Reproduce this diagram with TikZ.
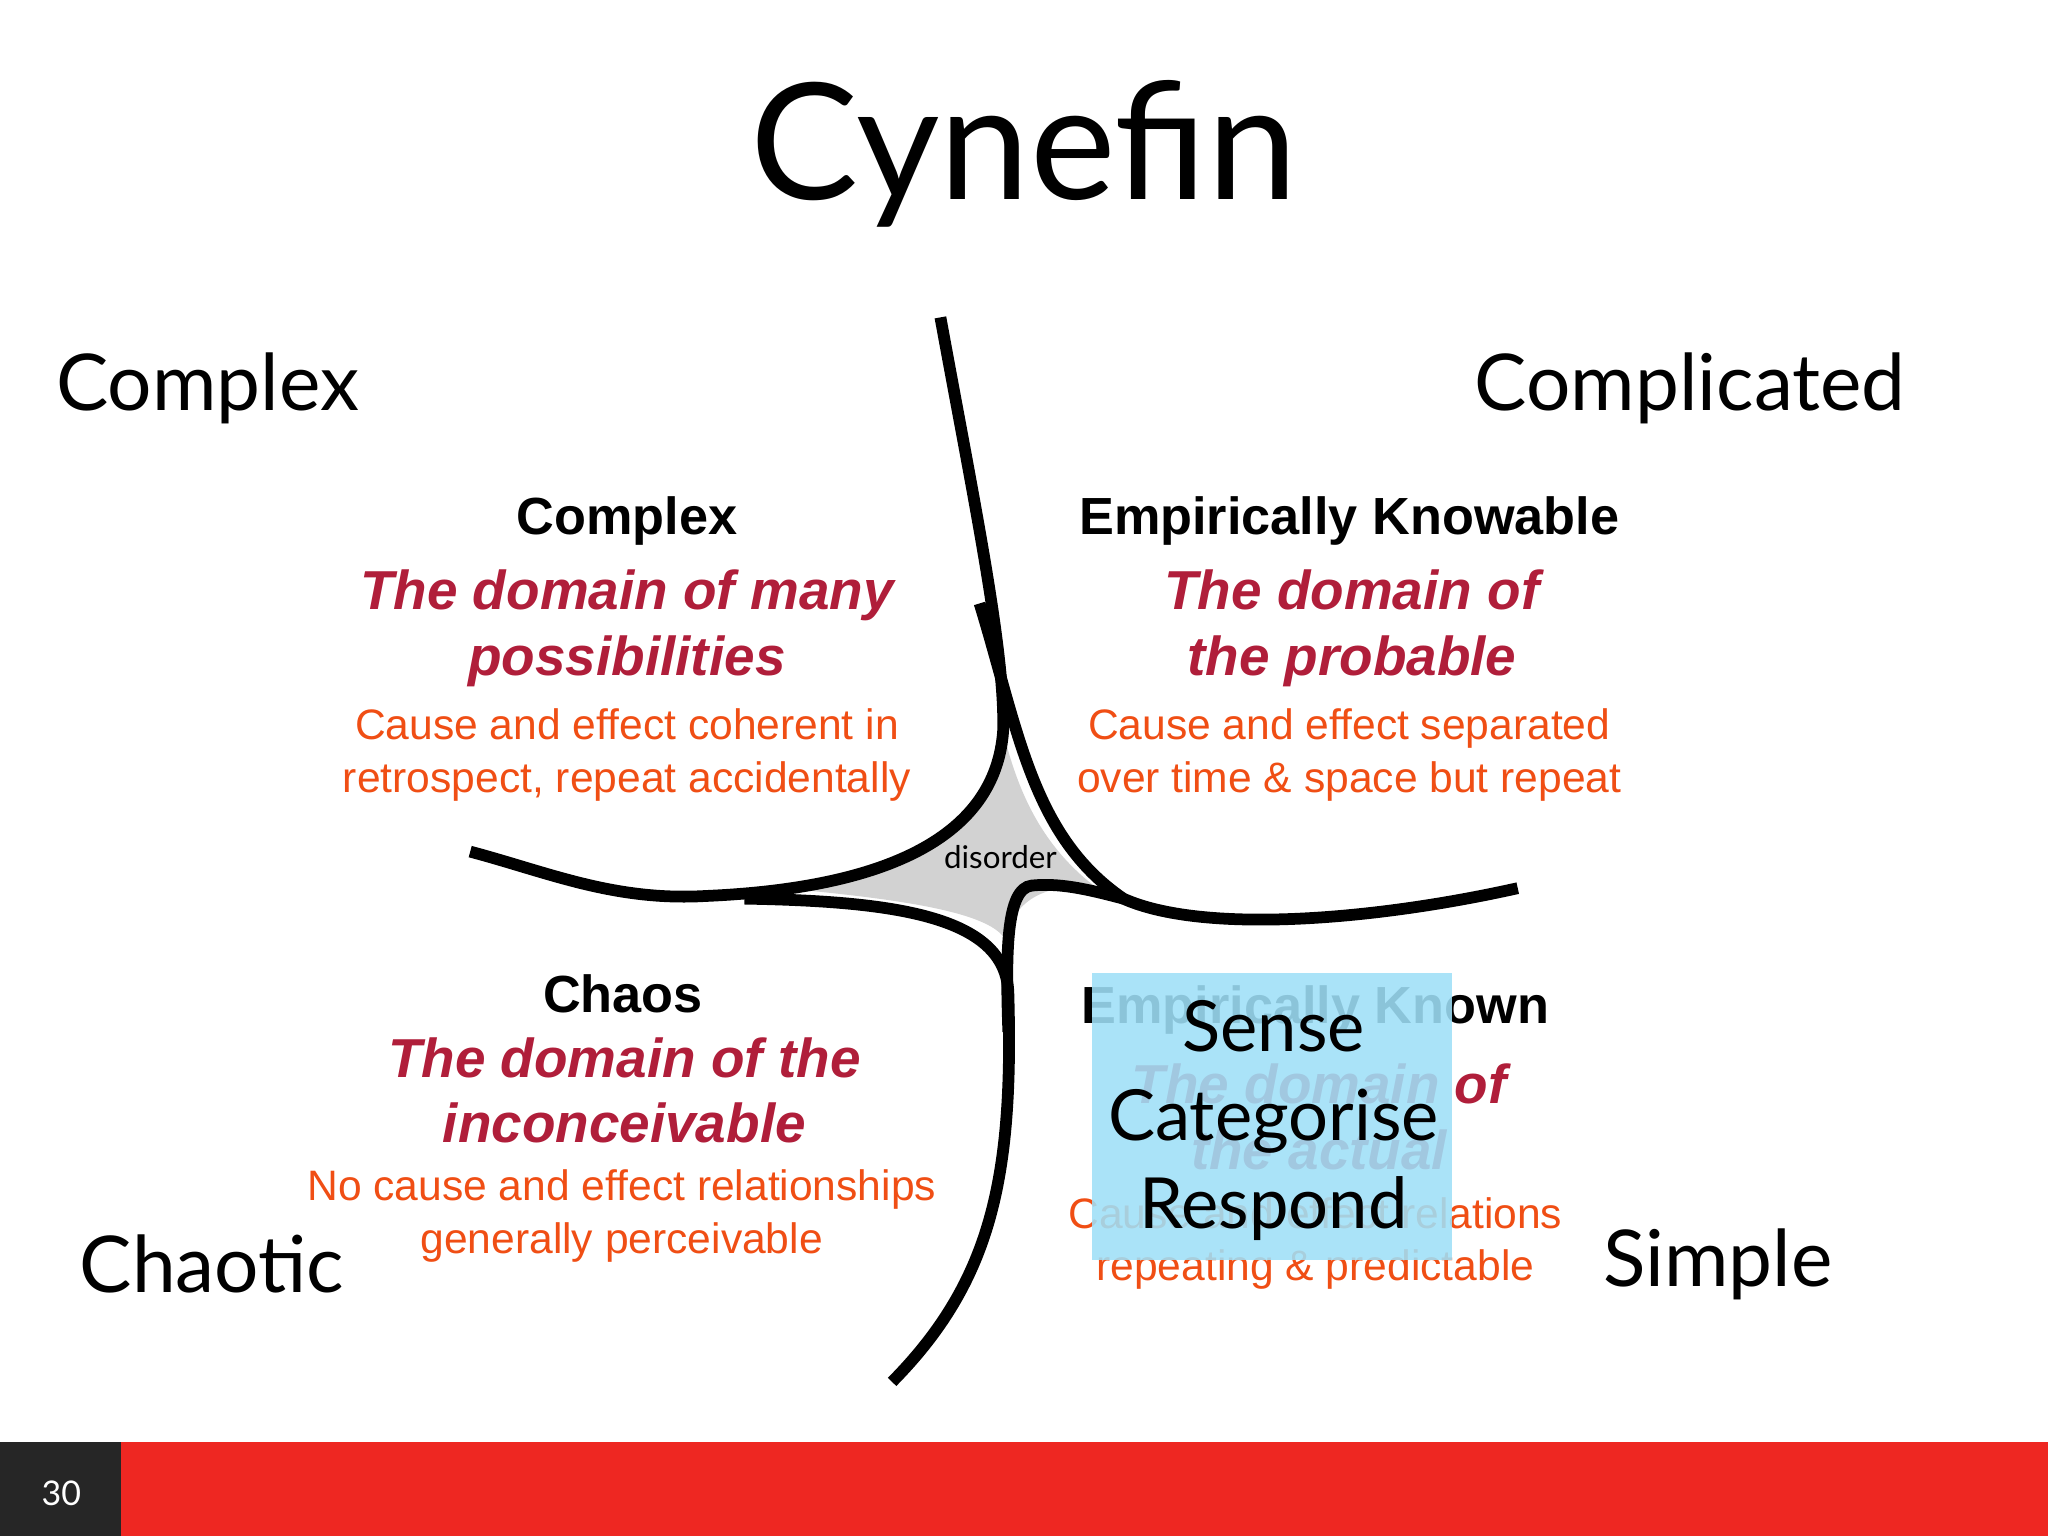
\documentclass[tikz,border=0pt]{standalone}
\usepackage{fontspec}
\setmainfont{Lato}
\newfontfamily\arial{Liberation Sans}
\definecolor{dred}{HTML}{B01E3A}
\definecolor{orng}{HTML}{F04E14}
\definecolor{barred}{HTML}{EE2722}
\definecolor{lblue}{HTML}{9FE0F8}
\begin{document}
\begin{tikzpicture}[x=0.5pt,y=-0.5pt,
  big/.style={font=\fontsize{30}{34}\selectfont},
  hd/.style={font=\arial\bfseries\fontsize{20}{22}\selectfont,align=center},
  it/.style={font=\arial\bfseries\itshape\fontsize{21}{25}\selectfont,text=dred,align=center},
  ds/.style={font=\arial\fontsize{16.3}{20}\selectfont,text=orng,align=center},
  ln/.style={line width=4.5pt,line cap=butt}]
\useasboundingbox (0,0) rectangle (1568,1176);
\fill[white] (0,0) rectangle (1568,1176);
\node (title) at (784,118) {\fontsize{62}{70}\selectfont Cynefin};
\node[big,anchor=west] (cx) at (36,297) {Complex};
\node[big,anchor=east] (cd) at (1466,297) {Complicated};
\node[big,anchor=west] (ch) at (54,968) {Chaotic};
\node[big,anchor=east] (sp) at (1410,968) {Simple};
% disorder fill
\fill[gray!35] (768,560) .. controls (760,620) and (700,665) .. (620,682)
  .. controls (700,690) and (760,700) .. (770,720)
  .. controls (775,690) and (800,675) .. (840,680)
  .. controls (800,650) and (780,610) .. (768,560) -- cycle;
% curves
\draw[ln] (720,243) .. controls (745,380) and (770,500) .. (768,560)
  .. controls (762,640) and (680,680) .. (540,686)
  .. controls (470,690) and (420,668) .. (360,652);
\draw[ln] (750,462) .. controls (780,560) and (790,640) .. (860,688)
  .. controls (920,715) and (1050,705) .. (1162,680);
\draw[ln] (570,688) .. controls (680,690) and (770,700) .. (772,760)
  .. controls (776,900) and (760,980) .. (683,1058);
\draw[ln] (772,790) .. controls (770,730) and (770,680) .. (790,678)
  .. controls (810,676) and (830,680) .. (860,688);
\node (dis) at (766,656) {\fontsize{12}{14}\selectfont disorder};
% Complex
\node[hd] (h1) at (480,399) {Complex};
\node[it] (i1) at (480,481) {The domain of many\\possibilities};
\node[ds] (d1) at (480,578) {Cause and effect coherent in\\retrospect, repeat accidentally};
% Empirically knowable
\node[hd] (h2) at (1033,399) {Empirically Knowable};
\node[it] (i2) at (1035,481) {The domain of\\the probable};
\node[ds] (d2) at (1033,578) {Cause and effect separated\\over time \& space but repeat};
% Chaos
\node[hd] (h3) at (477,761) {Chaos};
\node[it] (i3) at (478,835) {The domain of the\\inconceivable};
\node[ds] (d3) at (476,931) {No cause and effect relationships\\generally perceivable};
% Empirically known
\node[hd] (h4) at (1007,773) {Empirically Known};
\node[it] (i4) at (1010,855) {The domain of\\the actual};
\node[ds] (d4) at (1007,952) {Cause and effect relations\\repeating \& predictable};
\fill[lblue,opacity=0.88] (836,745) rectangle (1112,965);
\node[align=center,font=\fontsize{27}{34}\selectfont] (scr) at (975,858) {Sense\\Categorise\\Respond};
% footer
\fill[barred] (93,1104) rectangle (1568,1176);
\fill[black!85] (0,1104) rectangle (93,1176);
\node[text=white,font=\fontsize{13}{15}\selectfont] (pg) at (47,1143) {30};
\end{tikzpicture}
\end{document}
